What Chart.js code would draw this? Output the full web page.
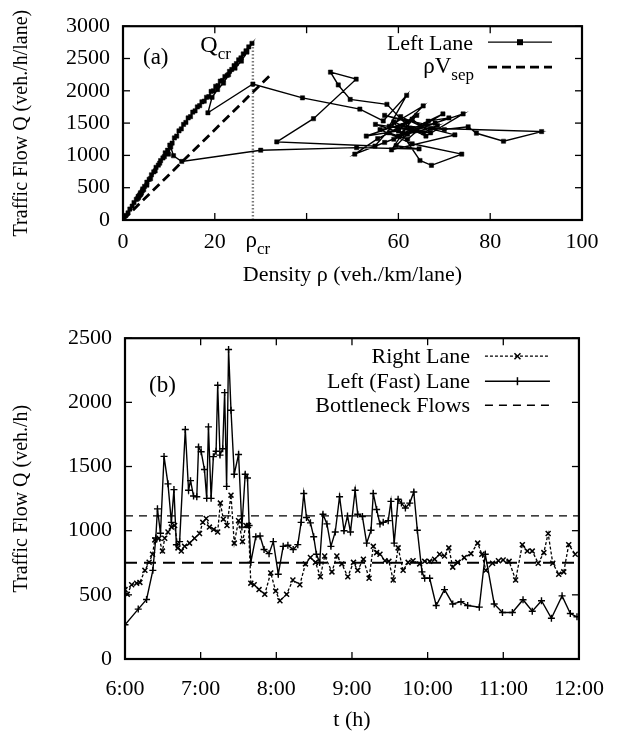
<!DOCTYPE html>
<html>
<head>
<meta charset="utf-8">
<script src="https://cdn.jsdelivr.net/npm/chart.js@4.4.0/dist/chart.umd.min.js"></script>
<style>
  html, body { margin: 0; padding: 0; background: #fff; }
  #wrap { position: relative; width: 621px; height: 735px; }
  #fd { position: absolute; left: 0; top: 0; }
  #ts { position: absolute; left: 0; top: 312px; }
</style>
</head>
<body>
<div id="wrap">
  <canvas id="fd" width="621" height="312"></canvas>
  <canvas id="ts" width="621" height="423"></canvas>
</div>
<script>
// ---- panel (a): flow-density, left lane ----
const rhoCr = 28.3;
const qCr = 2740;
const sepRho = [0, 31.9];
const sepQ = [0, 2230];

const leftRho = [
  0.2, 0.6, 1.1, 1.5, 2.0, 2.4, 2.9, 3.3, 3.8, 4.3, 4.7, 5.2, 5.7, 6.2, 6.7, 7.2, 7.7, 8.2, 8.7, 9.2,
  9.7, 10.2, 10.7, 11.2, 11.7, 12.2, 12.7, 13.2, 13.7, 14.2, 14.7, 15.2, 15.7, 16.2, 16.7, 17.2, 17.7, 18.2, 18.7, 19.2,
  19.7, 20.2, 20.7, 21.2, 21.7, 22.2, 22.7, 23.2, 23.7, 24.2, 24.7, 25.2, 25.7, 26.2, 26.8, 27.4, 28.1,
  27.0, 25.8, 24.4, 23.0, 21.9, 20.6, 19.4, 18.5,
  28.3, 39.1, 51.6, 56.7,
  61.8, 58.0, 65.4, 60.0, 53.0, 62.0, 57.0, 66.0, 59.0, 64.0, 69.7, 61.0, 55.0, 67.0, 63.0, 58.5, 72.3, 65.0, 60.5, 54.9,
  33.5, 41.5, 50.8, 45.2, 46.9, 49.5, 57.5, 62.5, 68.0, 74.1, 66.0, 59.0, 64.7, 67.2, 73.8, 63.0, 56.0, 61.0, 70.0, 75.2,
  77.0, 82.9, 91.2, 67.0, 60.0, 64.0, 58.0, 62.0, 66.5, 71.0, 63.5, 57.0, 50.5, 55.5, 60.0, 65.5, 68.5, 62.0, 59.5, 64.5,
  50.9, 30.0, 12.8, 11.0, 10.4, 9.9, 9.0, 8.0, 7.0, 6.0, 5.2, 4.5, 4.0, 3.6, 4.2, 3.4, 3.9, 3.2, 3.7
];
const leftQ = [
  20, 70, 110, 170, 215, 270, 320, 365, 420, 480, 520, 585, 630, 700, 745, 815, 850, 920, 960, 1040,
  1080, 1160, 1190, 1270, 1300, 1380, 1410, 1480, 1510, 1580, 1600, 1670, 1690, 1750, 1770, 1830, 1840, 1900, 1910, 1990,
  2000, 2070, 2080, 2150, 2160, 2220, 2240, 2300, 2330, 2390, 2420, 2480, 2510, 2570, 2620, 2680, 2735,
  2600, 2460, 2350, 2250, 2120, 2020, 1900, 1660,
  2105, 1891, 1717, 1533,
  1930, 1450, 1766, 1380, 1300, 1520, 1620, 1480, 1250, 1400, 1642, 1340, 1480, 1350, 1560, 1085, 1318, 1450, 1600, 1145,
  1209, 1568, 2180, 2289, 2090, 1866, 1791, 1420, 1500, 1642, 1300, 1520, 921, 846, 1020, 1180, 1400, 1460, 1400, 1443,
  1343, 1219, 1369, 1420, 1300, 1620, 1350, 1250, 1530, 1580, 1380, 1200, 1020, 1260, 1420, 1350, 1460, 1330, 1150, 1100,
  1120, 1080, 906, 995, 1130, 1020, 980, 880, 760, 640, 540, 470, 420, 380, 450, 350, 400, 330, 390
];

// ---- panel (b): flow time series (t in hours) ----
const rightT = [
  6.000, 6.030, 6.088, 6.154, 6.197, 6.263, 6.319, 6.364, 6.394, 6.450, 6.495, 6.525, 6.568, 6.613, 6.656, 6.700,
  6.744, 6.788, 6.853, 6.919, 6.985, 7.028, 7.073, 7.116, 7.172, 7.225, 7.260, 7.300, 7.348, 7.401, 7.444, 7.501,
  7.553, 7.598, 7.632, 7.663, 7.707, 7.772, 7.847, 7.926, 7.992, 8.048, 8.136, 8.219, 8.311, 8.385, 8.451, 8.517,
  8.582, 8.639, 8.735, 8.800, 8.866, 8.945, 9.020, 9.076, 9.151, 9.226, 9.282, 9.326, 9.370, 9.436, 9.488, 9.545,
  9.610, 9.676, 9.742, 9.807, 9.895, 9.961, 10.027, 10.092, 10.158, 10.223, 10.280, 10.332, 10.398, 10.484, 10.573,
  10.661, 10.717, 10.770, 10.858, 10.936, 10.998, 11.077, 11.163, 11.252, 11.317, 11.383, 11.462, 11.536, 11.593,
  11.654, 11.733, 11.799, 11.865, 11.951
];
const rightQ = [
  541, 504, 579, 591, 597, 691, 754, 816, 928, 941, 841, 941, 990, 1028, 1040, 866,
  841, 878, 903, 941, 978, 1065, 1095, 1028, 1010, 990, 1215, 1090, 1040, 1277, 903, 1078,
  915, 1040, 1040, 591, 579, 541, 504, 671, 529, 454, 504, 616, 579, 741, 791, 753,
  641, 803, 679, 803, 741, 641, 753, 691, 778, 629, 878, 829, 816, 766, 761, 616,
  866, 691, 753, 766, 741, 761, 761, 778, 816, 803, 866, 716, 753, 790, 821,
  903, 816, 691, 746, 766, 771, 761, 616, 891, 841, 841, 746, 829, 978,
  746, 661, 679, 891, 816
];
const fastT = [
  6.000, 6.175, 6.285, 6.368, 6.407, 6.429, 6.469, 6.516, 6.568, 6.613, 6.647, 6.679, 6.722, 6.797, 6.840, 6.866,
  6.906, 6.949, 6.972, 7.007, 7.050, 7.080, 7.103, 7.138, 7.168, 7.204, 7.225, 7.256, 7.291, 7.317, 7.343, 7.369,
  7.401, 7.444, 7.501, 7.545, 7.589, 7.619, 7.641, 7.663, 7.729, 7.785, 7.838, 7.904, 7.960, 8.026, 8.091, 8.153,
  8.223, 8.284, 8.328, 8.363, 8.399, 8.451, 8.494, 8.530, 8.573, 8.617, 8.669, 8.722, 8.779, 8.836, 8.895, 8.941,
  8.980, 9.042, 9.076, 9.138, 9.194, 9.252, 9.282, 9.326, 9.370, 9.413, 9.479, 9.515, 9.558, 9.610, 9.654, 9.706,
  9.764, 9.817, 9.864, 9.925, 9.961, 10.027, 10.113, 10.223, 10.332, 10.441, 10.529, 10.683, 10.762, 10.880, 10.989,
  11.120, 11.261, 11.383, 11.505, 11.636, 11.777, 11.886, 11.974
];
const fastQ = [
  267, 389, 464, 691, 943, 1170, 980, 1579, 1365, 1065, 1320, 890, 915, 1789, 1315, 1390,
  1270, 1265, 1652, 1615, 1477, 1252, 1809, 1252, 1577, 1619, 2133, 1589, 1639, 2076, 1345, 2412,
  1939, 1440, 1594, 1028, 1440, 1410, 1040, 753, 953, 958, 853, 821, 915, 661, 878, 886,
  853, 891, 1065, 1290, 1103, 1061, 953, 816, 753, 1128, 1053, 878, 990, 1265, 1000, 1115,
  990, 1315, 1128, 1110, 903, 1003, 1290, 1165, 1053, 1065, 1078, 1228, 903, 1245, 1215, 1177,
  1215, 1302, 1003, 679, 629, 629, 417, 541, 429, 447, 417, 404, 816, 429, 362,
  362, 462, 372, 454, 317, 492, 354, 329
];
const bottleneckQ = [1115, 750];
const hourTicks = [6, 12];

const SERIF = '"Liberation Serif", "Times New Roman", serif';
Chart.defaults.font.family = SERIF;
Chart.defaults.color = '#000';

function toXY(xs, ys) {
  return xs.map((v, i) => ({ x: v, y: ys[i] }));
}

function seg(ctx, x1, y1, x2, y2) {
  ctx.beginPath();
  ctx.moveTo(x1, y1);
  ctx.lineTo(x2, y2);
  ctx.stroke();
}

function subText(ctx, main, sub, x, y, size, align) {
  ctx.font = size + 'px ' + SERIF;
  const w1 = ctx.measureText(main).width;
  const subSize = Math.round(size * 0.72);
  ctx.font = subSize + 'px ' + SERIF;
  const w2 = ctx.measureText(sub).width;
  let x0 = x;
  if (align === 'right') x0 = x - w1 - w2;
  if (align === 'center') x0 = x - (w1 + w2) / 2;
  ctx.textAlign = 'left';
  ctx.textBaseline = 'alphabetic';
  ctx.font = size + 'px ' + SERIF;
  ctx.fillText(main, x0, y);
  ctx.font = subSize + 'px ' + SERIF;
  ctx.fillText(sub, x0 + w1, y + size * 0.3);
}

// gnuplot style box with inward, mirrored ticks
const framePlugin = {
  id: 'frame',
  afterDatasetsDraw(chart) {
    const { ctx, chartArea: a, scales } = chart;
    const L = 7;
    ctx.save();
    ctx.strokeStyle = '#000';
    ctx.lineWidth = 1.3;
    scales.x.ticks.forEach(t => {
      const p = scales.x.getPixelForValue(t.value);
      seg(ctx, p, a.bottom, p, a.bottom - L);
      seg(ctx, p, a.top, p, a.top + L);
    });
    scales.y.ticks.forEach(t => {
      const p = scales.y.getPixelForValue(t.value);
      seg(ctx, a.left, p, a.left + L, p);
      seg(ctx, a.right, p, a.right - L, p);
    });
    ctx.lineWidth = 2.2;
    ctx.strokeRect(a.left, a.top, a.width, a.height);
    ctx.restore();
  }
};

function sampleLine(ctx, x1, x2, y, width, dash) {
  ctx.save();
  ctx.lineWidth = width;
  ctx.setLineDash(dash);
  seg(ctx, x1, y, x2, y);
  ctx.restore();
}

const notesA = {
  id: 'notesA',
  afterDraw(chart) {
    const { ctx, chartArea: a, scales: { x } } = chart;
    ctx.save();
    ctx.fillStyle = '#000';
    ctx.strokeStyle = '#000';
    ctx.font = '23px ' + SERIF;
    ctx.textAlign = 'left';
    ctx.textBaseline = 'middle';
    ctx.fillText('(a)', a.left + 20, a.top + 32);
    const px = x.getPixelForValue(rhoCr);
    subText(ctx, 'Q', 'cr', px - 22, a.top + 26, 24, 'right');
    subText(ctx, '\u03c1', 'cr', px + 5, a.bottom + 27, 23, 'center');
    // legend
    const tx = a.right - 109, s1 = a.right - 94, s2 = a.right - 30;
    ctx.font = '22px ' + SERIF;
    ctx.textAlign = 'right';
    ctx.textBaseline = 'alphabetic';
    ctx.fillText('Left Lane', tx, a.top + 24);
    sampleLine(ctx, s1, s2, a.top + 16, 1.3, []);
    ctx.fillRect((s1 + s2) / 2 - 3, a.top + 13, 6, 6);
    subText(ctx, '\u03c1V', 'sep', tx + 1, a.top + 47, 23, 'right');
    sampleLine(ctx, s1, s2, a.top + 41, 2.8, [9, 5]);
    ctx.restore();
  }
};

const notesB = {
  id: 'notesB',
  afterDraw(chart) {
    const { ctx, chartArea: a } = chart;
    ctx.save();
    ctx.fillStyle = '#000';
    ctx.strokeStyle = '#000';
    ctx.font = '23px ' + SERIF;
    ctx.textAlign = 'left';
    ctx.textBaseline = 'middle';
    ctx.fillText('(b)', a.left + 24, a.top + 48);
    const tx = a.right - 109, s1 = a.right - 94, s2 = a.right - 29;
    const rows = [a.top + 18, a.top + 43, a.top + 67];
    const names = ['Right Lane', 'Left (Fast) Lane', 'Bottleneck Flows'];
    ctx.font = '22px ' + SERIF;
    ctx.textAlign = 'right';
    ctx.textBaseline = 'middle';
    names.forEach((n, i) => ctx.fillText(n, tx, rows[i] + 1));
    sampleLine(ctx, s1, s2, rows[0], 1.3, [3, 2]);
    sampleLine(ctx, s1, s2, rows[1], 1.4, []);
    sampleLine(ctx, s1, s2, rows[2], 1.4, [8, 6]);
    const m = (s1 + s2) / 2;
    ctx.lineWidth = 1.5;
    seg(ctx, m - 3, rows[0] - 3, m + 3, rows[0] + 3);
    seg(ctx, m - 3, rows[0] + 3, m + 3, rows[0] - 3);
    seg(ctx, m, rows[1] - 4, m, rows[1] + 4);
    ctx.restore();
  }
};

const tickFont = { size: 22, family: SERIF };
const plain = v => String(v);

new Chart(document.getElementById('fd'), {
  type: 'scatter',
  data: {
    datasets: [
      {
        label: 'Left Lane',
        data: toXY(leftRho, leftQ),
        showLine: true,
        borderColor: '#000',
        borderWidth: 1.4,
        backgroundColor: '#000',
        pointStyle: 'rect',
        pointRadius: 3,
        pointBorderWidth: 0.5
      },
      {
        label: '\u03c1Vsep',
        data: toXY(sepRho, sepQ),
        showLine: true,
        borderColor: '#000',
        borderWidth: 2.8,
        borderDash: [9, 5],
        pointRadius: 0
      },
      {
        label: 'rho_cr',
        data: toXY([rhoCr, rhoCr], [0, qCr]),
        showLine: true,
        borderColor: '#7a7a7a',
        borderWidth: 2.4,
        borderDash: [1.5, 2],
        pointRadius: 0
      }
    ]
  },
  options: {
    responsive: false,
    animation: false,
    events: [],
    layout: { padding: { top: 19, right: 39, left: 0, bottom: 0 } },
    elements: { line: { tension: 0 } },
    plugins: { legend: { display: false }, tooltip: { enabled: false } },
    scales: {
      x: {
        type: 'linear',
        min: 0,
        max: 100,
        grid: { display: false, drawTicks: false },
        border: { display: false },
        ticks: {
          stepSize: 20,
          font: tickFont,
          padding: 9,
          maxRotation: 0,
          callback: v => (v === 40 ? '' : String(v))
        },
        title: {
          display: true,
          text: 'Density \u03c1 (veh./km/lane)',
          font: { size: 22, family: SERIF },
          padding: { top: 0, bottom: 24 }
        },
        afterFit: s => { s.height = 92; }
      },
      y: {
        type: 'linear',
        min: 0,
        max: 3000,
        grid: { display: false, drawTicks: false },
        border: { display: false },
        ticks: { stepSize: 500, font: tickFont, padding: 13, callback: plain },
        title: {
          display: true,
          text: 'Traffic Flow Q (veh./h/lane)',
          font: { size: 20, family: SERIF },
          padding: { top: 10, bottom: 0 }
        },
        afterFit: s => { s.width = 123; }
      }
    }
  },
  plugins: [framePlugin, notesA]
});

new Chart(document.getElementById('ts'), {
  type: 'scatter',
  data: {
    datasets: [
      {
        label: 'Right Lane',
        data: toXY(rightT, rightQ),
        showLine: true,
        borderColor: '#000',
        borderWidth: 1.3,
        borderDash: [3, 2],
        pointStyle: 'crossRot',
        pointRadius: 3.5,
        pointBorderWidth: 1.5
      },
      {
        label: 'Left (Fast) Lane',
        data: toXY(fastT, fastQ),
        showLine: true,
        borderColor: '#000',
        borderWidth: 1.4,
        pointStyle: 'cross',
        pointRadius: 3.5,
        pointBorderWidth: 1.4
      },
      {
        label: 'Bottleneck Flows',
        data: toXY(hourTicks, [bottleneckQ[0], bottleneckQ[0]]),
        showLine: true,
        borderColor: '#000',
        borderWidth: 1.4,
        borderDash: [8, 6],
        pointRadius: 0
      },
      {
        label: 'Bottleneck Flows 2',
        data: toXY(hourTicks, [bottleneckQ[1], bottleneckQ[1]]),
        showLine: true,
        borderColor: '#000',
        borderWidth: 2,
        borderDash: [12, 7],
        pointRadius: 0
      }
    ]
  },
  options: {
    responsive: false,
    animation: false,
    events: [],
    layout: { padding: { top: 12, right: 39, left: 0, bottom: 0 } },
    elements: { line: { tension: 0 } },
    plugins: { legend: { display: false }, tooltip: { enabled: false } },
    scales: {
      x: {
        type: 'linear',
        min: 6,
        max: 12,
        grid: { display: false, drawTicks: false },
        border: { display: false },
        ticks: {
          stepSize: 1,
          font: tickFont,
          padding: 17,
          maxRotation: 0,
          autoSkip: false,
          callback: v => v + ':00'
        },
        title: {
          display: true,
          text: 't (h)',
          font: { size: 22, family: SERIF },
          padding: { top: 0, bottom: 2 }
        },
        afterFit: s => { s.height = 76; }
      },
      y: {
        type: 'linear',
        min: 0,
        max: 2500,
        grid: { display: false, drawTicks: false },
        border: { display: false },
        ticks: { stepSize: 500, font: tickFont, padding: 13, callback: plain },
        title: {
          display: true,
          text: 'Traffic Flow Q (veh./h)',
          font: { size: 20, family: SERIF },
          padding: { top: 10, bottom: 0 }
        },
        afterFit: s => { s.width = 125; }
      }
    }
  },
  plugins: [framePlugin, notesB]
});
</script>
</body>
</html>
